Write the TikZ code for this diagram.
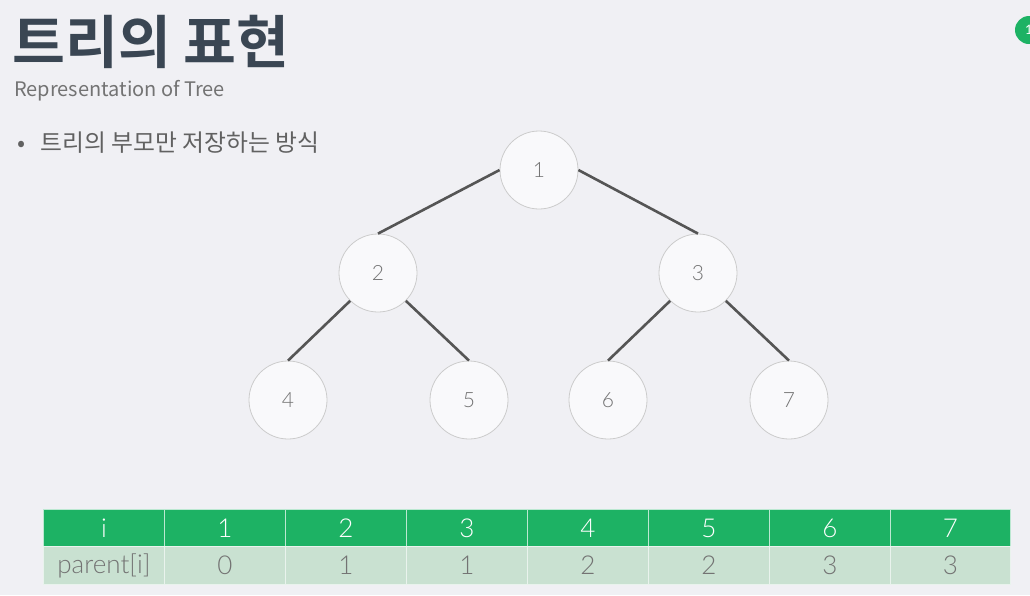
\documentclass[tikz,border=0pt]{standalone}
\usepackage{fontspec}
\setmainfont{Lato}
\newfontfamily\kr{Noto Sans CJK KR}
\newfontfamily\krb{Noto Sans CJK KR Bold}
\newfontfamily\lat{Lato}
\newfontfamily\latl{Lato Light}
\definecolor{bg}{HTML}{F0F0F4}
\definecolor{hdr}{HTML}{1DB264}
\definecolor{row}{HTML}{C9E1D1}
\definecolor{edge}{HTML}{555555}
\definecolor{title}{HTML}{3A4653}
\begin{document}
\begin{tikzpicture}[x=1pt,y=-1pt,
  tnode/.style={circle,draw=black!20,fill=white!60!bg,line width=0.8pt,minimum size=78pt,inner sep=0pt,font=\latl\fontsize{21}{21}\selectfont,text=black!55},
  tedge/.style={draw=edge,line width=2.6pt},
  hcell/.style={rectangle,fill=hdr,draw=white!70!hdr,line width=1pt,minimum width=121pt,minimum height=37pt,inner sep=0pt,font=\latl\fontsize{26}{26}\selectfont,text=white,anchor=north west},
  rcell/.style={rectangle,fill=row,draw=white!60!row,line width=1pt,minimum width=121pt,minimum height=38pt,inner sep=0pt,font=\latl\fontsize{26}{26}\selectfont,text=black!55,anchor=north west}]
\fill[bg] (0,0) rectangle (1030,595);
\useasboundingbox (0,0) rectangle (1030,595);
% title
\node[anchor=base west,inner sep=0pt,text=title,font=\krb\fontsize{57.5}{58}\selectfont] (ttl) at (12,63) {트리의 표현};
\node[anchor=base west,inner sep=0pt,text=black!55,font=\kr\fontsize{20}{20}\selectfont] (sub) at (14,96) {Representation of Tree};
\node[anchor=base west,inner sep=0pt,text=black!62,font=\kr\fontsize{23.8}{24}\selectfont] (bul) at (17,151) {•\hspace{15pt}트리의 부모만 저장하는 방식};
% page badge
\node[circle,fill=hdr,minimum size=28pt,inner sep=0pt,text=white,font=\lat\fontsize{13}{13}\selectfont] (badge) at (1029,30) {1};
% tree
\node[tnode] (n1) at (539,170) {1};
\node[tnode] (n2) at (378,273) {2};
\node[tnode] (n3) at (698,273) {3};
\node[tnode] (n4) at (288,400) {4};
\node[tnode] (n5) at (469,400) {5};
\node[tnode] (n6) at (608,400) {6};
\node[tnode] (n7) at (789,400) {7};
\draw[tedge] (n1.west) -- (n2.north);
\draw[tedge] (n1.east) -- (n3.north);
\draw[tedge] (n2.225) -- (n4.north);
\draw[tedge] (n2.315) -- (n5.north);
\draw[tedge] (n3.225) -- (n6.north);
\draw[tedge] (n3.315) -- (n7.north);
% table
\node[hcell] (h0) at (43,509) {i};
\node[hcell] (h1) at (164,509) {1};
\node[hcell] (h2) at (285,509) {2};
\node[hcell] (h3) at (406,509) {3};
\node[hcell] (h4) at (527,509) {4};
\node[hcell] (h5) at (648,509) {5};
\node[hcell] (h6) at (769,509) {6};
\node[hcell,minimum width=120pt] (h7) at (890,509) {7};
\node[rcell] (r0) at (43,546) {parent[i]};
\node[rcell] (r1) at (164,546) {0};
\node[rcell] (r2) at (285,546) {1};
\node[rcell] (r3) at (406,546) {1};
\node[rcell] (r4) at (527,546) {2};
\node[rcell] (r5) at (648,546) {2};
\node[rcell] (r6) at (769,546) {3};
\node[rcell,minimum width=120pt] (r7) at (890,546) {3};
\end{tikzpicture}
\end{document}
